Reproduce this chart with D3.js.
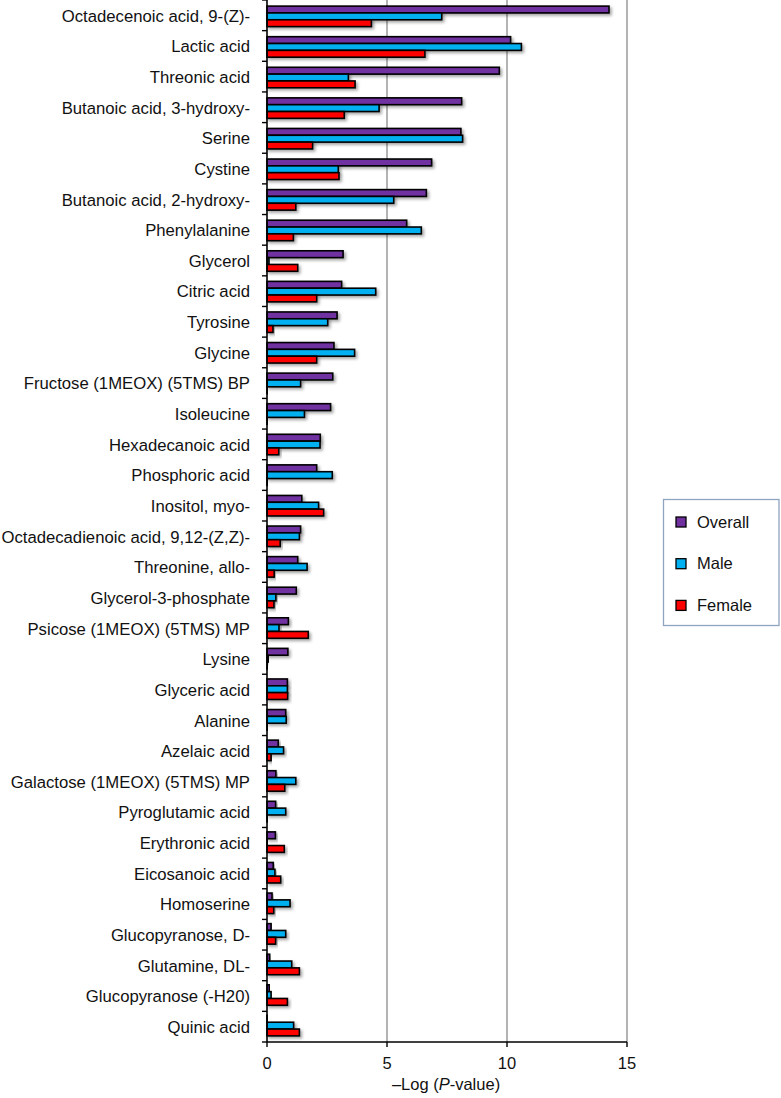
<!DOCTYPE html>
<html><head><meta charset="utf-8">
<script src="https://cdn.jsdelivr.net/npm/d3@7"></script>
<style>body{margin:0;background:#fff;} text{font-family:"Liberation Sans",Arial,Helvetica,sans-serif;}</style>
</head><body>
<svg id="chart" width="781" height="1098"></svg>
<script>
const categories = ["Octadecenoic acid, 9-(Z)-","Lactic acid","Threonic acid","Butanoic acid, 3-hydroxy-","Serine","Cystine","Butanoic acid, 2-hydroxy-","Phenylalanine","Glycerol","Citric acid","Tyrosine","Glycine","Fructose (1MEOX) (5TMS) BP","Isoleucine","Hexadecanoic acid","Phosphoric acid","Inositol, myo-","Octadecadienoic acid, 9,12-(Z,Z)-","Threonine, allo-","Glycerol-3-phosphate","Psicose (1MEOX) (5TMS) MP","Lysine","Glyceric acid","Alanine","Azelaic acid","Galactose (1MEOX) (5TMS) MP","Pyroglutamic acid","Erythronic acid","Eicosanoic acid","Homoserine","Glucopyranose, D-","Glutamine, DL-","Glucopyranose (-H20)","Quinic acid"];
const overall = [14.25,10.15,9.68,8.11,8.08,6.86,6.64,5.82,3.17,3.11,2.92,2.79,2.74,2.65,2.22,2.07,1.45,1.40,1.28,1.22,0.89,0.87,0.85,0.78,0.47,0.37,0.36,0.35,0.26,0.21,0.17,0.11,0.10,0.02];
const male =    [7.28,10.6,3.39,4.67,8.15,2.97,5.28,6.43,0.08,4.53,2.53,3.65,1.40,1.56,2.21,2.72,2.15,1.35,1.67,0.37,0.50,0.05,0.85,0.80,0.69,1.20,0.78,0.02,0.33,0.96,0.78,1.03,0.17,1.11];
const female =  [4.35,6.58,3.67,3.22,1.90,3.00,1.20,1.10,1.28,2.07,0.25,2.07,0.02,0.02,0.49,0.02,2.36,0.55,0.30,0.29,1.72,0.02,0.86,0.02,0.17,0.74,0.03,0.72,0.57,0.28,0.36,1.35,0.85,1.35];
const seriesNames = ["Overall","Male","Female"];
const seriesColors = ["#7030a0","#00b0f0","#ff0000"];
const xTicks = [0,5,10,15];
const xTitle = ["\u2013Log (","P","-value)"];

const svg = d3.select("#chart");
const defs = svg.append("defs");
const f = defs.append("filter").attr("id","sh").attr("x","-10%").attr("y","-50%").attr("width","130%").attr("height","250%");
f.append("feDropShadow").attr("dx",2).attr("dy",2).attr("stdDeviation",1.5).attr("flood-color","#000").attr("flood-opacity",0.35);

const m = {left:267, top:0, right:627, bottom:1042};
const x = d3.scaleLinear().domain([0,15]).range([m.left, m.right]);
const y = d3.scaleBand().domain(categories).range([m.top, m.bottom]).paddingInner(0.33).paddingOuter(0.2);
const ys = d3.scaleBand().domain(seriesNames).range([0, y.bandwidth()]);

// grid
svg.append("g").selectAll("line").data(xTicks.filter(d=>d>0)).join("line")
  .attr("x1",d=>x(d)).attr("x2",d=>x(d)).attr("y1",m.top).attr("y2",m.bottom)
  .attr("stroke","#9a9a9a").attr("stroke-width",1.5);

const data = [overall, male, female];
const rows = svg.append("g").selectAll("g").data(categories).join("g")
  .attr("transform",d=>`translate(0,${y(d)})`);
rows.selectAll("rect").data((d,i)=>seriesNames.map((s,j)=>({s, v:data[j][i], c:seriesColors[j]}))).join("rect")
  .attr("x",x(0)).attr("y",d=>ys(d.s)).attr("width",d=>x(d.v)-x(0)).attr("height",ys.bandwidth())
  .attr("fill",d=>d.c).attr("stroke","#000").attr("stroke-width",1.6).attr("filter","url(#sh)");

// y axis
const yAxisScale = d3.scaleLinear().domain([0,categories.length]).range([m.top,m.bottom]);
const yg = svg.append("g");
yg.append("line").attr("x1",x(0)).attr("x2",x(0)).attr("y1",m.top).attr("y2",m.bottom).attr("stroke","#000").attr("stroke-width",1.6);
yg.selectAll("line.t").data(d3.range(categories.length+1)).join("line").attr("class","t")
  .attr("x1",x(0)-5).attr("x2",x(0)).attr("y1",d=>yAxisScale(d)).attr("y2",d=>yAxisScale(d)).attr("stroke","#000").attr("stroke-width",1.4);
yg.selectAll("text").data(categories).join("text")
  .attr("x",250).attr("y",(d,i)=>(yAxisScale(i)+yAxisScale(i+1))/2+0.5).attr("dy","0.35em").attr("text-anchor","end")
  .attr("font-size",16.7).attr("fill","#111").text(d=>d);

// x axis
const xg = svg.append("g").attr("transform",`translate(0,${m.bottom})`);
xg.append("line").attr("x1",x(0)).attr("x2",x(15)).attr("stroke","#000").attr("stroke-width",1.6);
xg.selectAll("line.t").data(xTicks).join("line").attr("class","t")
  .attr("x1",d=>x(d)).attr("x2",d=>x(d)).attr("y1",0).attr("y2",5).attr("stroke","#000").attr("stroke-width",1.4);
xg.selectAll("text").data(xTicks).join("text")
  .attr("x",d=>x(d)).attr("y",26.5).attr("text-anchor","middle").attr("font-size",16.5).attr("fill","#111").text(d=>d);
const tt = svg.append("text").attr("x",(x(0)+x(15))/2 - 1).attr("y",1090).attr("text-anchor","middle").attr("font-size",16.5).attr("fill","#111");
tt.append("tspan").text(xTitle[0]);
tt.append("tspan").attr("font-style","italic").text(xTitle[1]);
tt.append("tspan").text(xTitle[2]);

// legend
const lg = svg.append("g");
lg.append("rect").attr("x",663.5).attr("y",499.5).attr("width",115.5).attr("height",126).attr("fill","#fff").attr("stroke","#8fa4bf").attr("stroke-width",1.3);
const li = lg.selectAll("g").data(seriesNames).join("g").attr("transform",(d,i)=>`translate(676,${517+i*41.7})`);
li.append("rect").attr("width",10).attr("height",10).attr("fill",(d,i)=>seriesColors[i]).attr("stroke","#000").attr("stroke-width",1.3);
li.append("text").attr("x",21).attr("y",5).attr("dy","0.35em").attr("font-size",16.5).attr("fill","#111").text(d=>d);
</script>
</body></html>
